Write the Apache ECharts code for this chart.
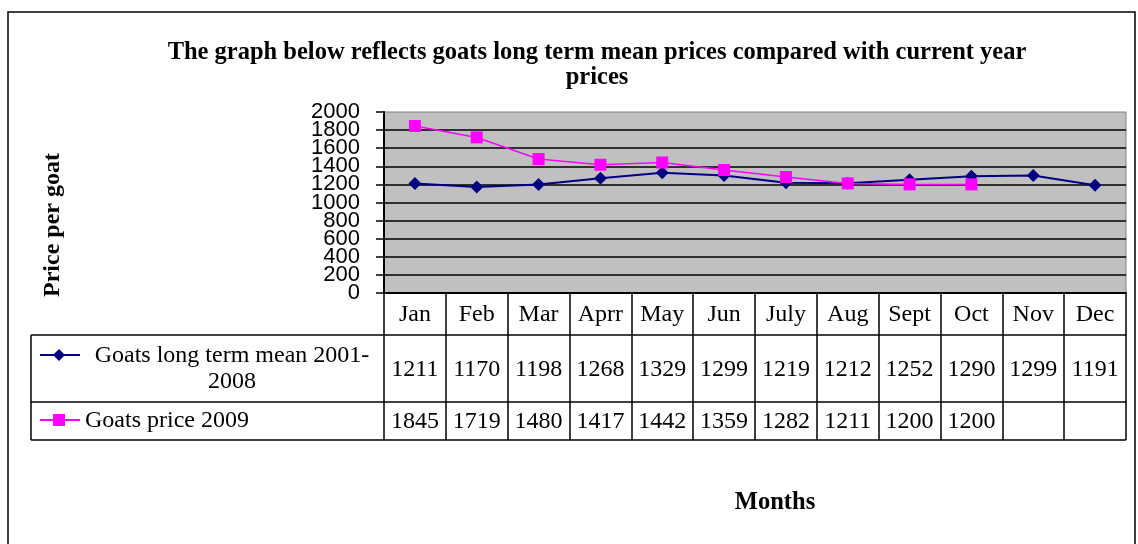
<!DOCTYPE html>
<html><head><meta charset="utf-8">
<script src="https://cdn.jsdelivr.net/npm/echarts@6/dist/echarts.min.js"></script>
<style>html,body{margin:0;padding:0;background:#fff}#c{width:1138px;height:544px}</style>
</head><body><div id="c"></div>
<script>
const months = ['Jan','Feb','Mar','Aprr','May','Jun','July','Aug','Sept','Oct','Nov','Dec'];
const longTermMean = [1211,1170,1198,1268,1329,1299,1219,1212,1252,1290,1299,1191];
const price2009 = [1845,1719,1480,1417,1442,1359,1282,1211,1200,1200,null,null];
const yTicks = [0,200,400,600,800,1000,1200,1400,1600,1800,2000];
const seriesNames = ['Goats long term mean 2001-2008','Goats price 2009'];
const seriesNameLines = [['Goats long term mean 2001-','2008'],['Goats price 2009']];
const titleLines = ['The graph below reflects goats long term mean prices compared with current year','prices'];
const yAxisTitle = 'Price per goat';
const xAxisTitle = 'Months';

const NAVY = '#000080', MAG = '#FF00FF';
const SERIF = '"Liberation Serif", "Times New Roman", serif';
const SANS = '"Liberation Sans", Arial, sans-serif';

const chart = echarts.init(document.getElementById('c'), null, {renderer:'canvas'});
const G = {left:384, top:112, width:742, height:181};

chart.setOption({
  animation:false,
  backgroundColor:'#fff',
  grid:{left:G.left, top:G.top, width:G.width, height:G.height, show:true,
        backgroundColor:'#C0C0C0', borderColor:'#808080', borderWidth:1, containLabel:false, outerBoundsMode:'none'},
  xAxis:{type:'category', data:months, boundaryGap:true,
    axisLine:{show:true, lineStyle:{color:'#000', width:2}},
    axisTick:{show:true, length:147, interval:0, lineStyle:{color:'#000', width:1.5}},
    axisLabel:{show:true, interval:0, margin:22, verticalAlign:'middle', color:'#000', fontFamily:SERIF, fontSize:24, hideOverlap:false},
    splitLine:{show:false}},
  yAxis:{type:'value', min:0, max:2000, interval:200,
    axisLine:{show:true, lineStyle:{color:'#000', width:2}},
    axisTick:{show:true, length:8, lineStyle:{color:'#000', width:1.5}},
    axisLabel:{show:false},
    splitLine:{show:true, showMaxLine:false, lineStyle:{color:'#000', width:1.5}}},
  series:[
    {name:seriesNames[0], type:'line', data:longTermMean, symbol:'diamond', symbolSize:13,
     lineStyle:{color:NAVY, width:2}, itemStyle:{color:NAVY}, z:2},
    {name:seriesNames[1], type:'line', data:price2009, symbol:'rect', symbolSize:12,
     lineStyle:{color:MAG, width:1.5}, itemStyle:{color:MAG}, z:3}
  ]
});

const FT = '24px ' + SERIF;
const g = [];
g.push({type:'rect', shape:{x:8, y:12, width:1127, height:560}, style:{fill:null, stroke:'#000', lineWidth:1.5}, silent:true, z:0});
g.push({type:'text', x:597, y:53, style:{text:titleLines[0], textAlign:'center', textVerticalAlign:'middle', font:'bold 24.5px '+SERIF, fill:'#000'}});
g.push({type:'text', x:597, y:78, style:{text:titleLines[1], textAlign:'center', textVerticalAlign:'middle', font:'bold 24.5px '+SERIF, fill:'#000'}});
g.push({type:'text', x:53, y:225, rotation:Math.PI/2, style:{text:yAxisTitle, textAlign:'center', textVerticalAlign:'middle', font:'bold 24px '+SERIF, fill:'#000'}});
g.push({type:'text', x:775, y:503, style:{text:xAxisTitle, textAlign:'center', textVerticalAlign:'middle', font:'bold 24.5px '+SERIF, fill:'#000'}});

// y-axis tick labels through the axis scale
yTicks.forEach(v => {
  const y = chart.convertToPixel({yAxisIndex:0}, v);
  g.push({type:'text', x:360, y:y, style:{text:String(v), textAlign:'right', textVerticalAlign:'middle', font:'22px '+SANS, fill:'#000'}});
});

const xR = G.left + G.width, xL = 31;
[335, 402, 440].forEach(y => g.push({type:'line', shape:{x1:xL, y1:y, x2:xR, y2:y}, style:{stroke:'#000', lineWidth:1.5}}));
g.push({type:'line', shape:{x1:xL, y1:335, x2:xL, y2:440}, style:{stroke:'#000', lineWidth:1.5}});

// legend keys
g.push({type:'line', shape:{x1:40, y1:355, x2:80, y2:355}, style:{stroke:NAVY, lineWidth:2}});
g.push({type:'polygon', shape:{points:[[59,349],[65,355],[59,361],[53,355]]}, style:{fill:NAVY}});
g.push({type:'line', shape:{x1:40, y1:420, x2:80, y2:420}, style:{stroke:MAG, lineWidth:2}});
g.push({type:'rect', shape:{x:53, y:414, width:12, height:12}, style:{fill:MAG}});

g.push({type:'text', x:232, y:356, style:{text:seriesNameLines[0][0], textAlign:'center', textVerticalAlign:'middle', font:FT, fill:'#000'}});
g.push({type:'text', x:232, y:382, style:{text:seriesNameLines[0][1], textAlign:'center', textVerticalAlign:'middle', font:FT, fill:'#000'}});
g.push({type:'text', x:85, y:421, style:{text:seriesNameLines[1][0], textAlign:'left', textVerticalAlign:'middle', font:FT, fill:'#000'}});

months.forEach((m, i) => {
  const x = chart.convertToPixel({xAxisIndex:0}, i);
  if (longTermMean[i] != null)
    g.push({type:'text', x:x, y:370, style:{text:String(longTermMean[i]), textAlign:'center', textVerticalAlign:'middle', font:FT, fill:'#000'}});
  if (price2009[i] != null)
    g.push({type:'text', x:x, y:422, style:{text:String(price2009[i]), textAlign:'center', textVerticalAlign:'middle', font:FT, fill:'#000'}});
});

chart.setOption({graphic:{elements:g}});
</script></body></html>
